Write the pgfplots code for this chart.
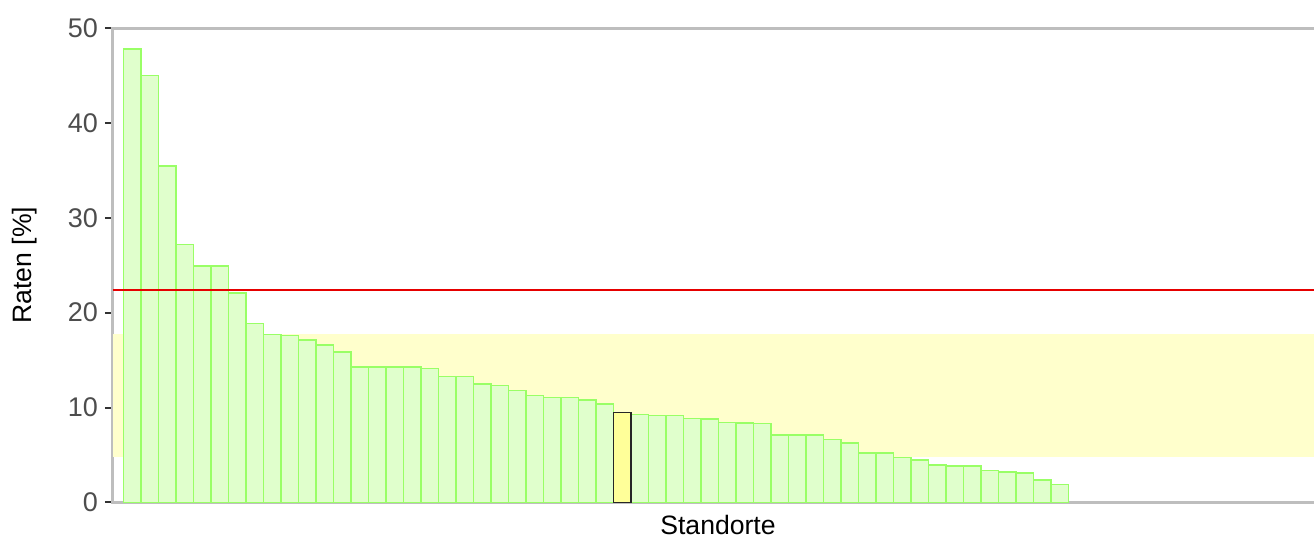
\documentclass[border=0pt]{standalone}
\usepackage{pgfplots}
\pgfplotsset{compat=1.18}
\usepackage{fontspec}
\setmainfont{Liberation Sans}
\definecolor{barfill}{RGB}{224,255,204}
\definecolor{baredge}{RGB}{153,255,102}
\definecolor{hlfill}{RGB}{255,255,153}
\definecolor{band}{RGB}{255,255,204}
\definecolor{axgray}{RGB}{190,190,190}
\definecolor{tickgray}{RGB}{77,77,77}
\definecolor{redline}{RGB}{230,0,0}
\begin{document}
\begin{tikzpicture}
\begin{axis}[
  at={(0,0)}, anchor=south west,
  scale only axis,
  width=603.5pt, height=237pt,
  xmin=-0.09, xmax=68.88,
  ymin=0, ymax=50,
  ytick={0,10,20,30,40,50},
  xtick=\empty,
  axis line style={axgray, line width=1.5pt},
  tick style={color=black!80, line width=1pt},
  tick align=outside,
  major tick length=4pt,
  yticklabel style={font=\fontsize{13.5}{15}\selectfont, text=tickgray},
  /pgf/number format/assume math mode=true,
  ylabel={Raten [\%]},
  xlabel={Standorte},
  ylabel style={font=\fontsize{13.3}{15}\selectfont, at={(axis description cs:-0.0729,0.5)}, anchor=center},
  xlabel style={font=\fontsize{13.3}{15}\selectfont, at={(axis description cs:0.5,0)}, yshift=-11.2pt, xshift=0.75pt, anchor=center},
  bar shift=0pt,
  bar width=1,
  clip=false,
]
\addplot[draw=none, fill=band, forget plot] coordinates {(-0.09,4.75) (68.88,4.75) (68.88,17.75) (-0.09,17.75)} -- cycle;
\addplot[ybar, fill=barfill, draw=baredge, line width=0.75pt] coordinates {
(1,47.8) (2,45.0) (3,35.5) (4,27.2) (5,24.95) (6,24.95) (7,22.1) (8,18.85) (9,17.7) (10,17.6)
(11,17.1) (12,16.6) (13,15.84) (14,14.25) (15,14.25) (16,14.25) (17,14.25) (18,14.09) (19,13.28) (20,13.28)
(21,12.47) (22,12.30) (23,11.78) (24,11.25) (25,11.07) (26,11.07) (27,10.79) (28,10.37)
(30,9.28) (31,9.18) (32,9.18) (33,8.86) (34,8.79) (35,8.41) (36,8.37) (37,8.30) (38,7.08) (39,7.08) (40,7.08)
(41,6.62) (42,6.24) (43,5.22) (44,5.22) (45,4.73) (46,4.48) (47,3.96) (48,3.85) (49,3.85) (50,3.36)
(51,3.19) (52,3.08) (53,2.34) (54,1.89)};
\addplot[ybar, fill=hlfill, draw=black!85, line width=0.75pt] coordinates {(29,9.46)};
\addplot[redline, line width=1pt] coordinates {(-0.09,22.4) (68.88,22.4)};
\end{axis}
\pgfresetboundingbox
\path[use as bounding box] (-56.5pt,-17.35pt) rectangle (600.5pt,251.15pt);
\end{tikzpicture}
\end{document}
